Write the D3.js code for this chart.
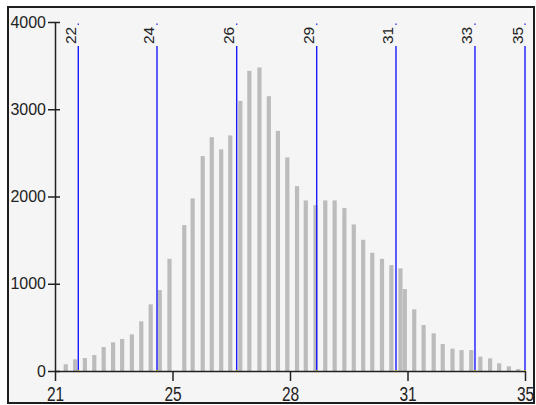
<!DOCTYPE html>
<html>
<head>
<meta charset="utf-8">
<script src="https://cdn.jsdelivr.net/npm/d3@7"></script>
<style>
body { margin: 0; background: #fff; }
svg { display: block; font-family: "Liberation Sans", Arial, sans-serif; }
</style>
</head>
<body>
<svg id="chart" width="536" height="405"></svg>
<script>
// bar centres (x value) and counts
var binCenters = [21.32, 21.60, 21.89, 22.17, 22.45, 22.73, 23.00, 23.29, 23.57, 23.85,
	24.12, 24.41, 24.85, 25.10, 25.40, 25.67, 25.95, 26.22, 26.52, 26.79,
	27.09, 27.37, 27.64, 27.92, 28.21, 28.47, 28.76, 29.05, 29.33, 29.62,
	29.90, 30.18, 30.45, 30.74, 31.02, 31.29, 31.42, 31.70, 31.98, 32.28,
	32.55, 32.84, 33.11, 33.40, 33.67, 33.96, 34.23, 34.52, 34.80];
var binCounts = [77, 134, 149, 183, 275, 329, 367, 420, 569, 764,
	928, 1286, 1672, 1978, 2463, 2680, 2540, 2700, 3096, 3440,
	3479, 3150, 2752, 2448, 2119, 1955, 1901, 1955, 1955, 1867,
	1680, 1504, 1355, 1286, 1214, 1176, 939, 707, 527, 432,
	309, 256, 240, 240, 164, 145, 88, 54, 23];

// blue marker lines and their labels
var markerValues = [21.694, 24.038, 26.412, 28.795, 31.157, 33.51, 35.0];
var markerLabels = ["22", "24", "26", "29", "31", "33", "35"];

// axis ticks
var xTickValues = [21, 24.5, 28, 31.5, 35];
var xTickLabels = ["21", "25", "28", "31", "35"];
var yTickValues = [0, 1000, 2000, 3000, 4000];

var svg = d3.select("#chart");

// frame
svg.append("rect")
	.attr("x", 8).attr("y", 7)
	.attr("width", 526).attr("height", 396)
	.attr("fill", "#f5f5f5")
	.attr("stroke", "#1e1e1e")
	.attr("stroke-width", 2);

var x = d3.scaleLinear().domain([21, 35]).range([55, 525]);
var y = d3.scaleLinear().domain([0, 4000]).range([371, 22]);

var barW = 4.2;

// bars
svg.append("g")
	.selectAll("rect")
	.data(binCenters)
	.enter().append("rect")
	.attr("x", (d) => x(d) - barW / 2)
	.attr("y", (d, i) => y(binCounts[i]))
	.attr("width", barW)
	.attr("height", (d, i) => y(0) - y(binCounts[i]))
	.attr("fill", "#bcbcbc");

// marker lines
var mk = svg.append("g")
	.selectAll("g")
	.data(markerValues)
	.enter().append("g");

mk.append("line")
	.attr("x1", (d) => x(d)).attr("x2", (d) => x(d))
	.attr("y1", 46).attr("y2", y(0))
	.attr("stroke", "#1a1aff")
	.attr("stroke-width", 1.4);

mk.append("rect")
	.attr("x", (d) => x(d) - 0.7).attr("y", 23.5)
	.attr("width", 1.4).attr("height", 1.4)
	.attr("fill", "#3030ff");

mk.append("rect")
	.attr("x", (d) => x(d) - 1).attr("y", y(0) - 1)
	.attr("width", 2).attr("height", 2)
	.attr("fill", "#d8c84a");

mk.append("text")
	.attr("transform", (d) => "translate(" + (x(d) - 2.5) + ",44) rotate(-90)")
	.attr("text-anchor", "start")
	.attr("font-size", 15.5)
	.attr("fill", "#222")
	.text((d, i) => markerLabels[i]);

// y axis
var yAxis = svg.append("g")
	.attr("transform", "translate(55,0)")
	.call(d3.axisLeft(y).tickValues(yTickValues).tickSizeInner(7).tickSizeOuter(0).tickPadding(2)
		.tickFormat(d3.format("d")));
yAxis.attr("font-family", null).attr("font-size", null);
yAxis.select(".domain").attr("stroke", "#222").attr("stroke-width", 1.5);
yAxis.selectAll(".tick line").attr("x1", 5).attr("stroke", "#222").attr("stroke-width", 1.5);
yAxis.selectAll(".tick text")
	.attr("font-size", 16)
	.attr("fill", "#222");

// x axis
var xAxis = svg.append("g")
	.attr("transform", "translate(0," + y(0) + ")")
	.call(d3.axisBottom(x).tickValues(xTickValues).tickSizeInner(10).tickSizeOuter(0)
		.tickFormat((d, i) => xTickLabels[i]));
xAxis.attr("font-family", null).attr("font-size", null);
xAxis.select(".domain").attr("stroke", "#222").attr("stroke-width", 1.5);
xAxis.selectAll(".tick line").attr("stroke", "#222").attr("stroke-width", 1.5);
xAxis.selectAll(".tick text")
	.attr("font-size", 15.5)
	.attr("fill", "#222")
	.attr("dy", 0)
	.attr("y", 0)
	.attr("transform", "translate(0,30) scale(1,1.35)");
</script>
</body>
</html>
